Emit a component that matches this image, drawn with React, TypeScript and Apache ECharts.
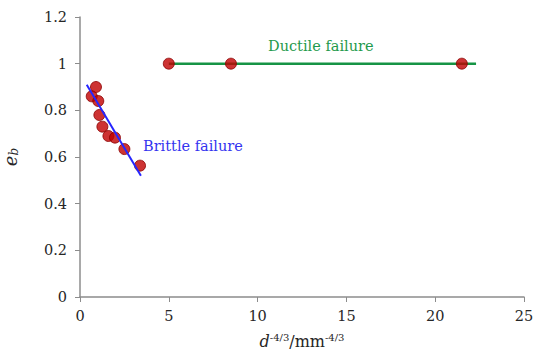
import React, { useEffect, useRef } from "react";
import * as echarts from "echarts";

const brittlePoints: [number, number][] = [
  [0.9, 0.9],
  [0.66, 0.86],
  [1.03, 0.84],
  [1.09, 0.78],
  [1.26, 0.73],
  [1.6, 0.69],
  [1.97, 0.683],
  [2.5, 0.634],
  [3.38, 0.563],
];
const ductilePoints: [number, number][] = [
  [5, 1],
  [8.5, 1],
  [21.5, 1],
];
const brittleFit: [number, number][] = [
  [0.38, 0.91],
  [3.43, 0.52],
];
const ductileFit: [number, number][] = [
  [5, 1],
  [22.3, 1],
];
const xTicks = { min: 0, max: 25, interval: 5 };
const yTicks = { min: 0, max: 1.2, interval: 0.2 };

const FONT = "DejaVu Serif";

export default function App() {
  const ref = useRef<HTMLDivElement>(null);
  useEffect(() => {
    if (!ref.current) return;
    const chart = echarts.init(ref.current, undefined, { renderer: "svg" });
    chart.setOption({
      animation: false,
      backgroundColor: "#fff",
      textStyle: { fontFamily: FONT },
      grid: { left: 80, right: 11, top: 17, bottom: 59, outerBoundsMode: "none" },
      xAxis: {
        type: "value",
        min: xTicks.min,
        max: xTicks.max,
        interval: xTicks.interval,
        splitLine: { show: false },
        axisLine: { lineStyle: { color: "#8c8c8c", width: 1.5 } },
        axisTick: { show: true, length: 5, lineStyle: { color: "#8c8c8c" } },
        axisLabel: { color: "#262626", fontFamily: FONT, fontSize: 14.5, margin: 11 },
        name: "{i|d}{sup|-4/3}{n|/mm}{sup|-4/3}",
        nameLocation: "middle",
        nameGap: 35,
        nameTextStyle: {
          fontFamily: FONT,
          rich: {
            i: { fontFamily: FONT, fontStyle: "italic", fontSize: 16, color: "#262626" },
            n: { fontFamily: FONT, fontSize: 16, color: "#262626" },
            sup: { fontFamily: FONT, fontSize: 10, color: "#262626", verticalAlign: "top", padding: [0, 0, 8, 0] },
          },
        },
      },
      yAxis: {
        type: "value",
        min: yTicks.min,
        max: yTicks.max,
        interval: yTicks.interval,
        splitLine: { show: false },
        axisLine: { show: true, lineStyle: { color: "#8c8c8c", width: 1.5 } },
        axisTick: { show: true, length: 5, lineStyle: { color: "#8c8c8c" } },
        axisLabel: { color: "#262626", fontFamily: FONT, fontSize: 14.5, margin: 13 },
        name: "{i|e}{sub|b}",
        nameLocation: "middle",
        nameGap: 60,
        nameRotate: 90,
        nameTextStyle: {
          fontFamily: FONT,
          rich: {
            i: { fontFamily: FONT, fontStyle: "italic", fontSize: 18, color: "#262626" },
            sub: { fontFamily: FONT, fontStyle: "italic", fontSize: 12, color: "#262626", padding: [8, 0, 0, 0] },
          },
        },
      },
      series: [
        {
          type: "line",
          data: brittleFit,
          symbol: "none",
          lineStyle: { color: "#2626ff", width: 2 },
          z: 3,
        },
        {
          type: "line",
          data: ductileFit,
          symbol: "none",
          lineStyle: { color: "#169445", width: 2.5 },
          z: 1,
        },
        {
          type: "scatter",
          data: brittlePoints,
          symbolSize: 11,
          itemStyle: { color: "#c00000", borderColor: "#8b0000", borderWidth: 1 },
          z: 2,
        },
        {
          type: "scatter",
          data: ductilePoints,
          symbolSize: 11,
          itemStyle: { color: "#c00000", borderColor: "#8b0000", borderWidth: 1 },
          z: 2,
        },
      ],
      graphic: [
        {
          type: "text",
          left: 143,
          top: 138,
          style: { text: "Brittle failure", fill: "#3434f0", fontFamily: FONT, fontSize: 14.5 },
        },
        {
          type: "text",
          left: 268,
          top: 38,
          style: { text: "Ductile failure", fill: "#1f9a4c", fontFamily: FONT, fontSize: 14.5 },
        },
      ],
    });
    return () => chart.dispose();
  }, []);
  return (
    <div
      ref={ref}
      style={{ position: "absolute", left: 0, top: 0, width: 535, height: 356 }}
    />
  );
}
